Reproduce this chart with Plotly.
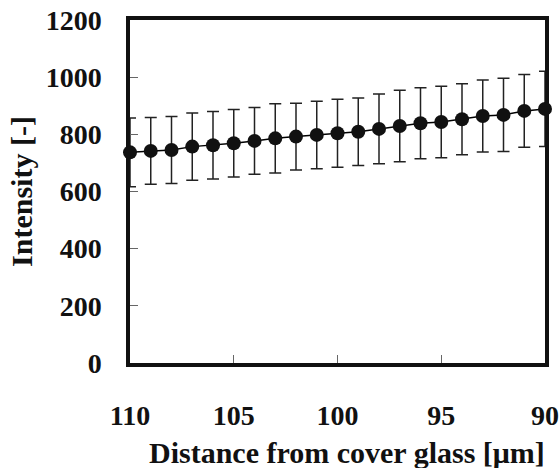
import plotly.graph_objects as go

distance = [110, 109, 108, 107, 106, 105, 104, 103, 102, 101, 100,
            99, 98, 97, 96, 95, 94, 93, 92, 91, 90]
intensity = [737, 742, 745, 757, 762, 769, 777, 786, 792, 798, 804,
             809, 819, 829, 839, 843, 853, 864, 868, 882, 889]
error = [120, 117, 117, 118, 118, 118, 117, 121, 117, 118, 119,
         118, 122, 125, 124, 125, 124, 126, 128, 127, 132]

x_ticks = [110, 105, 100, 95, 90]
y_ticks = [0, 200, 400, 600, 800, 1000, 1200]

font_family = "Liberation Serif, Times New Roman, serif"

fig = go.Figure()
fig.add_trace(go.Scatter(
    x=distance, y=intensity,
    mode="lines+markers",
    line=dict(color="black", width=1.5),
    marker=dict(color="#111111", size=14),
    error_y=dict(type="data", array=error, visible=True,
                 color="#222222", thickness=1.5, width=6),
    cliponaxis=False,
    showlegend=False,
))

fig.update_layout(
    width=560, height=468,
    margin=dict(l=130, r=15, t=20, b=105),
    paper_bgcolor="white", plot_bgcolor="white",
    font=dict(family=font_family, color="#111111"),
    xaxis=dict(
        range=[110, 90], tickvals=x_ticks, ticktext=[str(v) for v in x_ticks],
        showgrid=False, zeroline=False, automargin=False,
        showline=True, mirror=True, linecolor="#111111", linewidth=3.5,
        ticks="inside", ticklen=8, tickcolor="#666666", tickwidth=1,
        tickfont=dict(size=28, weight="bold", family=font_family),
        ticklabelstandoff=25,
    ),
    yaxis=dict(
        range=[0, 1200], tickvals=y_ticks, ticktext=[str(v) for v in y_ticks],
        showgrid=False, zeroline=False, automargin=False,
        showline=True, mirror=True, linecolor="#111111", linewidth=3.5,
        ticks="inside", ticklen=8, tickcolor="#666666", tickwidth=1,
        tickfont=dict(size=28, weight="bold", family=font_family),
        ticklabelstandoff=19,
        title=dict(text="Intensity [-]",
                   font=dict(size=30, weight="bold", family=font_family),
                   standoff=5),
    ),
    annotations=[dict(
        text="Distance from cover glass [μm]",
        xref="paper", yref="paper", x=0.522, y=-0.262,
        xanchor="center", yanchor="middle", showarrow=False,
        font=dict(size=30, weight="bold", family=font_family, color="#111111"),
    )],
)

fig.write_html("out.html",
               config={"displayModeBar": False},
               post_script="document.body.style.margin='0';document.body.style.overflow='hidden';")
